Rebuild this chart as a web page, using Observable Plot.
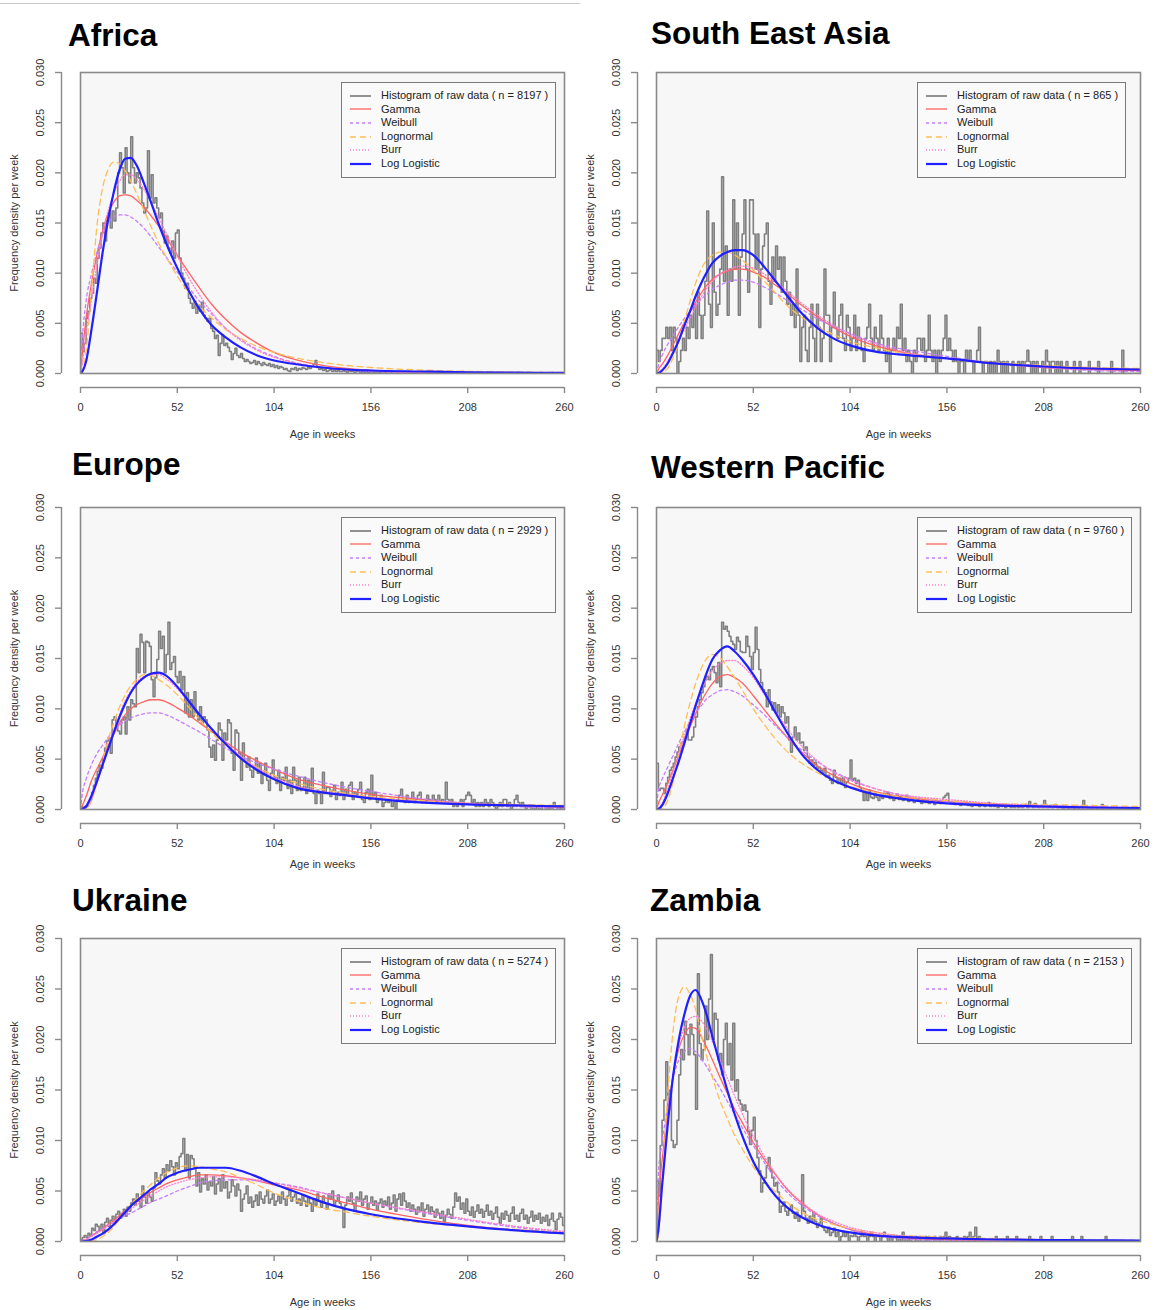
<!DOCTYPE html>
<html><head><meta charset="utf-8">
<script src="https://cdn.jsdelivr.net/npm/d3@7"></script>
<script src="https://cdn.jsdelivr.net/npm/@observablehq/plot@0.6"></script>
<style>
body{margin:0;background:#fff;font-family:"Liberation Sans",Arial,sans-serif}
#page{position:relative;width:1161px;height:1310px;overflow:hidden;background:#fff}
.title{position:absolute;font-weight:bold;font-size:31.5px;line-height:1;color:#000;white-space:nowrap}
.legend{position:absolute;background:#fafafa;border:1.5px solid #7a7a7a;padding:6px 7px 6px 0;font-size:11px;color:#222;white-space:nowrap}
.legend .row{height:13.6px;line-height:13.6px;display:flex;align-items:center}
.legend svg{width:39px;height:10px;flex:none}
.rule{position:absolute;left:0;top:3px;width:580px;height:1px;background:#c8c8c8}
</style></head><body><div id="page"><div class="rule"></div></div><script>
// ---------- shared axes / categories ----------
const xTicks = [0, 52, 104, 156, 208, 260];
const yTicks = [0, 0.005, 0.01, 0.015, 0.02, 0.025, 0.03];
const curveWeeks = [0,1,3,6,9,12,15,18,21,24,27,30,34,38,42,46,52,58,64,70,78,86,95,104,117,130,143,156,182,208,234,260];
const regionNames = ["Africa", "South East Asia", "Europe", "Western Pacific", "Ukraine", "Zambia"];
const sampleSizes = [8197, 865, 2929, 9760, 5274, 2153];
const seriesNames = ["Gamma", "Weibull", "Lognormal", "Burr", "Log Logistic"];

// ---------- histogram densities per week (units of 1e-4) ----------
const africaHist = [
40,22,30,55,62,75,80,95,90,115, 125,140,150,132,155,160,145,162,152,165,
200,220,205,180,225,200,190,236,205,190, 200,195,185,170,160,165,222,175,198,170,
175,165,155,160,142,130,137,125,120,132, 115,140,143,115,100,95,85,90,75,70,
65,72,60,68,62,71,58,55,52,55, 45,42,35,38,18,30,38,28,30,26,
22,14,20,25,18,16,20,15,12,14, 12,10,11,13,9,12,10,8,11,9,
8,10,7,9,6,8,5,7,6,4, 5,3,2,5,4,6,3,5,4,6,
5,4,6,5,7,9,13,6,4,5, 3,4,2,3,4,2,3,2,3,2,
2,3,2,1,3,2,2,1,2,2, 1,2,1,2,1,1,2,1,1,1,
1,1,2,1,1,1,1,1,1,1, 1,0,1,1,0,1,2,1,0,1,
1,0,1,0,1,1,0,1,2,1, 0,1,1,0,1,0,1,1,0,1,
1,0,1,1,0,2,1,0,1,0, 1,0,1,1,0,1,0,0,1,0,
1,1,0,0,1,0,0,1,0,0, 0,1,0,0,0,1,0,0,0,0,
1,0,0,0,0,0,0,1,0,0, 0,0,0,1,0,0,0,0,0,0];
const seaHist = [
23,12,23,35,35,46,35,46,23,46, 35,0,12,23,35,23,46,35,58,46,
69,35,81,58,35,58,92,162,69,46, 150,81,58,69,104,196,92,127,58,104,
92,173,104,150,58,116,139,173,104,81, 173,173,139,104,139,46,104,127,139,150,
92,69,116,92,127,104,116,81,116,92, 69,81,58,69,46,104,58,12,46,58,
23,12,46,69,35,12,69,46,12,35, 104,58,58,12,46,81,46,35,58,69,
35,23,58,46,23,35,58,23,46,35, 23,12,35,46,69,35,23,46,35,23,
58,35,23,12,35,0,23,35,23,46, 35,69,23,35,12,23,12,0,23,12,
35,35,23,35,12,23,58,23,12,23, 0,23,12,23,35,58,23,35,23,12,
23,12,0,12,12,0,23,12,23,12, 0,12,23,46,12,0,12,12,0,12,
0,12,0,23,12,0,12,0,12,0, 0,12,0,0,12,0,12,0,12,23,
12,0,12,0,12,0,0,12,0,23, 12,0,12,12,0,12,0,12,0,0,
12,0,0,0,12,0,0,12,0,0, 0,0,12,0,0,0,0,12,0,0,
0,0,0,0,12,0,0,0,0,0, 23,0,0,0,0,0,0,0,0,0];
const europeHist = [
3,0,3,3,7,10,17,24,31,38, 44,41,51,61,68,71,56,89,92,82,
78,75,89,92,75,102,89,109,105,102, 160,136,174,166,136,167,166,162,129,112,
131,149,177,160,172,136,154,186,139,146, 152,132,126,137,119,132,96,116,92,109,
92,117,96,89,102,86,92,89,79,62, 52,64,49,69,86,79,49,76,69,89,
86,56,39,79,76,56,29,66,49,42, 52,39,32,42,51,36,46,26,36,46,
29,19,36,49,32,26,39,19,32,29, 42,21,29,16,42,29,19,32,19,22,
32,16,29,19,41,16,6,19,16,6, 37,16,22,22,13,19,24,10,17,14,
27,10,20,14,24,27,10,17,14,20, 27,10,7,17,20,10,34,14,17,7,
10,14,3,7,10,7,10,3,7,0, 10,14,20,10,7,14,7,10,17,7,
10,14,17,7,10,7,14,10,7,14, 10,7,14,7,10,7,27,10,7,10,
3,7,3,7,10,3,10,14,17,14, 7,10,3,7,3,7,3,10,7,3,
10,7,3,0,3,7,3,10,10,3, 7,0,3,10,14,7,3,7,3,0,
3,3,0,3,0,3,0,3,0,0, 3,0,3,0,7,3,0,3,0,3];
const westernPacificHist = [
46,19,21,21,16,26,32,39,42,46, 52,57,62,66,67,72,79,69,69,72,
82,92,102,109,116,122,129,132,129,139, 142,136,126,146,122,186,179,182,177,172,
167,164,159,171,167,157,156,156,172,162, 152,139,156,181,159,139,126,119,116,102,
119,107,99,106,96,104,92,102,96,86, 92,69,57,72,82,69,76,66,67,59,
62,52,46,49,44,47,41,42,39,36, 41,32,34,29,26,39,32,26,31,26,
32,22,27,31,49,29,31,26,29,22, 19,9,16,9,19,12,11,16,12,9,
14,11,16,13,17,11,14,9,12,15, 10,13,9,11,14,8,10,12,7,9,
11,8,6,10,7,9,6,8,10,5, 7,8,6,9,12,14,16,8,6,7,
5,7,6,4,6,5,7,4,5,3, 6,4,5,3,4,6,3,5,7,3,
4,3,5,2,4,3,4,2,3,4, 2,3,2,4,2,3,2,3,5,2,
8,3,2,6,3,2,4,2,9,3, 2,4,2,3,5,2,3,2,1,3,
2,1,2,3,1,2,1,2,3,9, 2,1,2,1,2,1,1,2,1,5,
1,1,2,1,1,1,2,1,1,0, 1,1,0,1,1,0,1,0,1,0];
const ukraineHist = [
2,4,6,4,8,6,13,11,17,15, 11,17,8,19,23,15,21,25,19,27,
30,23,28,32,25,34,30,38,42,36, 47,40,34,55,44,38,49,44,40,53,
68,60,57,66,72,63,76,70,80,74, 66,78,72,84,87,102,70,86,63,85,
82,72,55,68,49,62,57,66,51,59, 55,64,47,57,62,50,66,53,59,43,
49,61,55,45,57,51,30,42,47,55, 38,44,34,40,46,36,49,42,38,45,
51,38,42,47,36,40,45,38,49,42, 36,45,51,40,44,47,38,42,36,46,
40,35,44,38,30,42,36,47,40,34, 45,38,32,47,42,50,36,40,46,38,
34,14,36,44,40,48,38,30,44,40, 49,36,42,45,32,38,44,36,40,31,
38,42,34,40,36,44,32,38,46,30, 42,47,36,48,40,34,38,30,36,32,
27,34,30,38,25,32,36,28,34,30, 24,32,28,23,30,20,26,32,27,23,
34,48,40,44,32,38,28,42,30,26, 34,24,30,36,28,32,24,30,36,26,
30,22,28,34,24,18,28,22,30,26, 20,28,34,22,26,20,28,32,22,26,
18,24,30,20,26,22,28,18,24,20, 26,16,22,28,20,12,22,28,24,16];
const zambiaHist = [
60,45,95,120,140,178,130,150,100,93, 96,120,165,190,180,218,205,185,215,205,
185,131,265,196,180,190,233,200,240,284, 200,226,220,180,186,165,200,216,175,196,
160,216,149,160,140,136,130,135,129,109, 96,110,123,100,83,70,49,58,63,75,
83,70,63,55,58,49,29,35,39,30, 26,32,36,28,23,29,20,25,66,30,
23,18,25,19,29,20,14,18,23,14, 11,9,14,6,9,13,5,9,0,5,
9,5,9,0,6,5,9,5,0,5, 9,5,5,0,5,9,5,0,5,5,
0,5,9,5,0,5,0,5,5,0, 5,0,9,0,5,0,5,0,0,5,
0,5,0,0,5,0,5,0,0,5, 0,0,5,0,5,9,0,5,0,0,
0,5,0,0,0,5,0,5,9,0, 5,14,0,5,0,0,0,0,0,0,
0,0,5,0,0,0,0,0,5,0, 0,0,0,5,0,0,0,0,0,0,
5,0,0,0,0,0,5,0,0,0, 0,0,5,0,0,0,0,0,0,0,
0,0,0,5,0,0,0,0,5,0, 0,0,0,0,0,0,0,0,0,0,
0,5,0,0,0,0,0,0,0,0, 0,0,0,0,0,0,0,0,0,0];

// ---------- fitted densities at curveWeeks (units of 1e-4) ----------
const africaGamma       = [0,20,55,91,120,143,160,171,177,178,177,173,166,157,147,136,118,101,85,70,54,41,30,21,13,8,5,3,1,0.4,0.2,0.1];
const africaWeibull     = [0,35,72,100,122,139,150,156,158,158,156,152,145,136,126,116,101,86,72,60,45,34,24,17,10,6,3.5,2,0.6,0.2,0,0];
const africaLognormal   = [0,2,22,85,150,186,204,211,209,202,192,180,163,146,130,116,97,81,67,56,44,35,27,21,15,11,8,6,3.5,2.2,1.4,1];
const africaBurr        = [0,10,40,75,110,140,163,180,192,198,198,194,184,170,155,140,117,96,78,62,45,33,23,16,10,6,4,2.5,1.2,0.6,0.3,0.2];
const africaLogLogistic = [0,2,12,45,83,122,155,182,203,214,215,208,190,170,149,130,105,83,64,49,36,26,18,13,9,6,4,3,2,1.2,0.8,0.6];

const seaGamma       = [0,4,9,18,29,40,51,61,71,80,88,94,99,102,104,104,101,96,88,80,68,57,46,37,28,22,18,15,10,6,4,3];
const seaWeibull     = [0,8,18,29,38,47,55,62,68,74,79,84,88,91,93,93,91,86,80,73,64,55,47,40,31,25,21,17,10,6,3,2];
const seaLognormal   = [0,0,1,5,16,32,52,72,90,104,113,118,121,121,118,113,103,92,80,68,56,47,39,32,26,21,18,15,11,8,6,5];
const seaBurr        = [0,1,4,12,22,33,44,55,66,76,85,92,99,103,106,107,105,99,91,82,70,59,48,39,30,23,18,15,10,7,5,4];
const seaLogLogistic = [0,0.5,3,10,21,33,48,62,77,90,101,110,117,121,123,123,118,106,92,78,60,46,35,28,22,19,17,15,10,7,5,4];

const europeGamma       = [0,4,13,29,41,52,64,75,86,94,100,104,107,109,109,107,101,94,86,78,67,57,48,40,30,24,19,15,10,6,4,2];
const europeWeibull     = [0,16,30,45,56,64,72,78,84,88,91,93,95,96,96,94,89,83,77,70,61,53,46,40,33,27,22,18,11,6,3,1];
const europeLognormal   = [0,0,0.5,9,28,49,70,87,102,114,123,129,134,133,129,124,114,102,89,77,64,52,42,34,26,20,16,13,9,6,5,4];
const europeBurr        = [0,0.3,2,11,27,45,63,80,95,108,118,126,132,134,134,130,120,107,94,81,66,53,41,32,23,18,15,12,8,6,4,3];
const europeLogLogistic = [0,0.5,3,14,29,45,61,77,92,105,116,124,131,135,136,133,122,108,94,81,65,51,39,30,21,17,14,11,7,5,4,3];

const westernPacificGamma       = [0,6,14,26,40,54,68,82,95,107,117,125,132,134,131,126,113,99,85,72,57,44,34,26,18,13,10,8,5,3,2,1];
const westernPacificWeibull     = [0,19,30,42,54,66,77,87,96,103,110,114,118,119,117,113,104,94,83,72,59,48,38,30,21,15,11,8,4,2,1,0.5];
const westernPacificLognormal   = [0,0,1,9,28,55,83,106,125,140,150,154,151,142,131,119,100,84,70,58,46,37,29,23,17,13,11,9,6,5,4,3];
const westernPacificBurr        = [0,1,6,20,38,56,73,90,106,119,130,138,145,148,148,143,131,114,97,81,63,49,37,29,21,15,12,10,6,4,3,2];
const westernPacificLogLogistic = [0,0.5,4,16,32,48,66,85,103,120,136,149,158,162,157,149,134,116,96,77,55,40,29,22,15,11,8,6,4,3,2,1.5];

const ukraineGamma       = [0,1,2,6,9,13,17,21,26,30,35,39,44,49,53,57,61,64,66,66,65,63,60,56,51,44,38,32,23,16,11,8];
const ukraineWeibull     = [0,1,2,6,10,13,16,19,22,26,28,31,35,39,42,45,50,54,58,60,61,61,60,58,54,48,43,38,29,21,14,9];
const ukraineLognormal   = [0,0,0,0.5,2,5,9,15,22,29,36,42,50,57,63,68,73,75,74,72,69,63,56,48,40,33,29,25,19,15,12,9];
const ukraineBurr        = [0,0.5,2,5,8,12,16,20,24,28,32,36,41,46,50,54,58,61,63,64,64,63,61,58,53,48,43,38,30,22,15,10];
const ukraineLogLogistic = [0,0,0.5,2,5,8,12,17,23,29,35,40,46,52,57,63,68,71,73,73,73,70,64,57,48,39,32,27,20,15,11,8];

const zambiaGamma       = [0,40,80,128,165,191,205,212,211,203,192,180,163,147,131,118,98,81,66,52,38,27,18,12,7,4,2.5,1.5,0.6,0.3,0.1,0];
const zambiaWeibull     = [0,66,98,134,162,180,188,191,188,181,173,164,152,139,126,113,95,78,62,49,36,26,18,12,6,3,1.5,0.8,0.3,0.1,0,0];
const zambiaLognormal   = [0,5,55,145,210,243,252,245,230,205,183,163,140,122,105,92,74,60,49,39,29,22,17,13,9,6,5,4,3,2,1.5,1.2];
const zambiaBurr        = [0,15,60,120,165,195,212,221,223,219,210,198,180,162,144,127,104,84,67,53,39,28,20,14,9,6,4,3,1.5,1,0.6,0.4];
const zambiaLogLogistic = [0,12,55,115,165,200,225,243,249,240,224,203,176,150,126,105,79,60,45,34,24,17,12,9,6,4.5,3.5,3,2,1.5,1.2,1];

const regionData = [
  {hist: africaHist, curves: [africaGamma, africaWeibull, africaLognormal, africaBurr, africaLogLogistic]},
  {hist: seaHist, curves: [seaGamma, seaWeibull, seaLognormal, seaBurr, seaLogLogistic]},
  {hist: europeHist, curves: [europeGamma, europeWeibull, europeLognormal, europeBurr, europeLogLogistic]},
  {hist: westernPacificHist, curves: [westernPacificGamma, westernPacificWeibull, westernPacificLognormal, westernPacificBurr, westernPacificLogLogistic]},
  {hist: ukraineHist, curves: [ukraineGamma, ukraineWeibull, ukraineLognormal, ukraineBurr, ukraineLogLogistic]},
  {hist: zambiaHist, curves: [zambiaGamma, zambiaWeibull, zambiaLognormal, zambiaBurr, zambiaLogLogistic]}
];

// ---------- styles & layout ----------
const histStyle = {stroke: "#808080", strokeWidth: 1.6};
const curveStyles = [
  {stroke: "#ff6464", strokeWidth: 1.3},
  {stroke: "#c77dff", strokeWidth: 1.3, strokeDasharray: "3,3"},
  {stroke: "#ffbe55", strokeWidth: 1.3, strokeDasharray: "6,4"},
  {stroke: "#ff80cc", strokeWidth: 1.3, strokeDasharray: "1,2"},
  {stroke: "#1f1fff", strokeWidth: 2.2}
];
const layout = [
  {left: 0,   frameLeft: 80,  frameTop: 72,  frameH: 301, svgTop: 52,  svgBottom: 441,  xLabelDy: 61, titleX: 68,  titleBase: 47},
  {left: 576, frameLeft: 656, frameTop: 72,  frameH: 301, svgTop: 52,  svgBottom: 441,  xLabelDy: 61, titleX: 651, titleBase: 45},
  {left: 0,   frameLeft: 80,  frameTop: 507, frameH: 302, svgTop: 487, svgBottom: 872,  xLabelDy: 55, titleX: 72,  titleBase: 476},
  {left: 576, frameLeft: 656, frameTop: 507, frameH: 302, svgTop: 487, svgBottom: 872,  xLabelDy: 55, titleX: 651, titleBase: 479},
  {left: 0,   frameLeft: 80,  frameTop: 938, frameH: 303, svgTop: 918, svgBottom: 1310, xLabelDy: 61, titleX: 72,  titleBase: 912},
  {left: 576, frameLeft: 656, frameTop: 938, frameH: 303, svgTop: 918, svgBottom: 1310, xLabelDy: 61, titleX: 650, titleBase: 912}
];
const frameW = 484, svgW = 580;
const fmt = d3.format(".3f");
const page = document.getElementById("page");

regionNames.forEach((name, i) => {
  const L = layout[i], R = regionData[i];
  const height = L.svgBottom - L.svgTop;
  const marginTop = L.frameTop - L.svgTop;
  const marginBottom = height - marginTop - L.frameH;
  const marginLeft = L.frameLeft - L.left;
  const histPts = R.hist.map((v, w) => ({w, v: v / 1e4}));
  histPts.push({w: R.hist.length, v: R.hist[R.hist.length - 1] / 1e4});
  const curvePts = R.curves.map(arr => arr.map((v, k) => ({w: curveWeeks[k], v: v / 1e4})));
  const x0 = xTicks[0], x1 = xTicks[xTicks.length - 1];
  const y0 = yTicks[0], y1 = yTicks[yTicks.length - 1];
  const txt = {fill: "#333", fontSize: 11};
  const chart = Plot.plot({
    width: svgW, height, marginLeft, marginRight: svgW - marginLeft - frameW, marginTop, marginBottom,
    x: {domain: [x0, x1], axis: null},
    y: {domain: [y0, y1], axis: null},
    style: {fontFamily: "'Liberation Sans', Arial, sans-serif", fontSize: "11px", background: "transparent", overflow: "hidden"},
    marks: [
      Plot.frame({fill: "#f7f7f7", stroke: null}),
      Plot.line(histPts, {x: "w", y: "v", curve: "step-after", ...histStyle, clip: true}),
      ...curvePts.map((pts, k) => Plot.line(pts, {x: "w", y: "v", curve: "monotone-x", ...curveStyles[k], clip: true})),
      Plot.frame({stroke: "#8a8a8a", strokeWidth: 1.6}),
      Plot.ruleY([y0], {x1: x0, x2: x1, dy: 14, stroke: "#8a8a8a", strokeWidth: 1.4}),
      Plot.ruleX(xTicks, {x: d => d, y1: y0, y2: y0, dy: 14, insetBottom: -6, stroke: "#8a8a8a", strokeWidth: 1.4}),
      Plot.text(xTicks, {x: d => d, frameAnchor: "bottom", text: d => String(d), dy: 34, lineAnchor: "middle", ...txt}),
      Plot.ruleX([x0], {y1: y0, y2: y1, dx: -19, stroke: "#8a8a8a", strokeWidth: 1.4}),
      Plot.ruleY(yTicks, {y: d => d, x1: x0, x2: x0, dx: -19, insetLeft: -6, stroke: "#8a8a8a", strokeWidth: 1.4}),
      Plot.text(yTicks, {y: d => d, frameAnchor: "left", text: d => fmt(d), rotate: -90, dx: -40, textAnchor: "middle", lineAnchor: "middle", ...txt}),
      Plot.text(["Frequency density per week"], {frameAnchor: "left", text: d => d, rotate: -90, dx: -66, textAnchor: "middle", lineAnchor: "middle", ...txt}),
      Plot.text(["Age in weeks"], {frameAnchor: "bottom", text: d => d, dy: L.xLabelDy, lineAnchor: "middle", ...txt})
    ]
  });
  chart.style.position = "absolute";
  chart.style.left = L.left + "px";
  chart.style.top = L.svgTop + "px";
  page.appendChild(chart);

  const t = document.createElement("div");
  t.className = "title";
  t.textContent = name;
  t.style.left = L.titleX + "px";
  t.style.top = (L.titleBase - 27) + "px";
  page.appendChild(t);

  const lg = document.createElement("div");
  lg.className = "legend";
  lg.style.left = (L.frameLeft + 261) + "px";
  lg.style.top = (L.frameTop + 10) + "px";
  const entries = [{label: `Histogram of raw data ( n = ${sampleSizes[i]} )`, stroke: "#6e6e6e", strokeWidth: 1.5}]
    .concat(seriesNames.map((s, k) => ({label: s, ...curveStyles[k]})));
  entries.forEach(e => {
    const row = document.createElement("div");
    row.className = "row";
    row.innerHTML = `<svg viewBox="0 0 39 10"><line x1="8" x2="29" y1="5" y2="5" stroke="${e.stroke}" stroke-width="${e.strokeWidth}" ${e.strokeDasharray ? `stroke-dasharray="${e.strokeDasharray}"` : ""}/></svg><span>${e.label}</span>`;
    lg.appendChild(row);
  });
  page.appendChild(lg);
});
</script></body></html>
